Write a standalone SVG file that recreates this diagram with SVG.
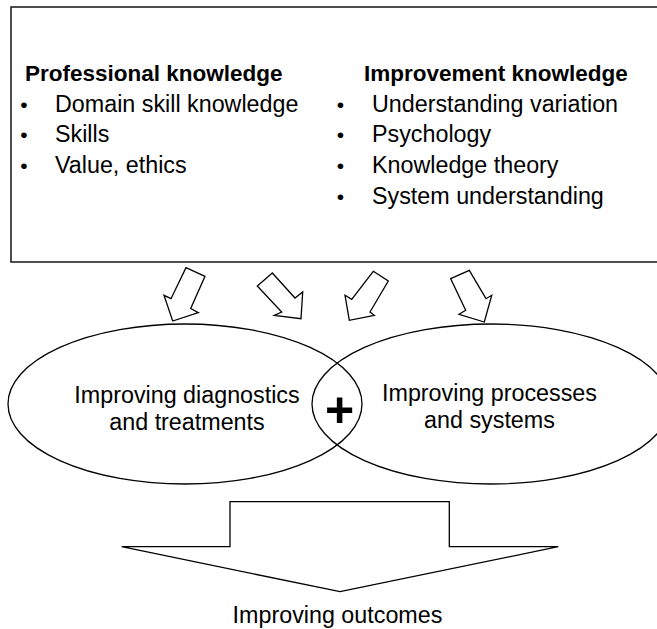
<svg xmlns="http://www.w3.org/2000/svg" width="657" height="629" viewBox="0 0 657 629">
<style>
  text { font-family: "Liberation Sans", Arial, sans-serif; fill: #000; }
  .h { font-weight: bold; font-size: 22.5px; }
  .t { font-size: 23.3px; }
  .c { font-size: 23.3px; text-anchor: middle; }
  .b { font-size: 21px; text-anchor: middle; }
  .sh { fill: #fff; stroke: #000; stroke-width: 1.3; stroke-linejoin: miter; }
  .el { fill: none; stroke: #000; stroke-width: 1.3; }
</style>
<rect width="657" height="629" fill="#fff"/>

<g id="knowledge-box">
  <rect x="11" y="7" width="660" height="255" fill="#fff" stroke="#222" stroke-width="1.6"/>
  <text class="h" x="25" y="81">Professional knowledge</text>
  <text class="b" x="24" y="111.5">•</text>
  <text class="t" x="55" y="111.5">Domain skill knowledge</text>
  <text class="b" x="24" y="142">•</text>
  <text class="t" x="55" y="142">Skills</text>
  <text class="b" x="24" y="172.5">•</text>
  <text class="t" x="55" y="172.5">Value, ethics</text>

  <text class="h" x="364" y="81">Improvement knowledge</text>
  <text class="b" x="340.5" y="111.5">•</text>
  <text class="t" x="372" y="111.5">Understanding variation</text>
  <text class="b" x="340.5" y="142">•</text>
  <text class="t" x="372" y="142">Psychology</text>
  <text class="b" x="340.5" y="172.5">•</text>
  <text class="t" x="372" y="172.5">Knowledge theory</text>
  <text class="b" x="340.5" y="203.5">•</text>
  <text class="t" x="372" y="203.5">System understanding</text>
</g>

<g id="connectors">
  <polygon class="sh" points="186,267.7 205,276.3 190.7,308.5 198.3,312.7 172.7,321 164,295.3 171,298.7"/>
  <polygon class="sh" points="272.3,273 257.3,286 281.7,312 274.3,315.3 301,318.7 302.7,292 295,298"/>
  <polygon class="sh" points="373.3,271.3 388.3,281 370,312 374.3,315.3 349.3,320.3 345,295.3 351.7,299.3"/>
  <polygon class="sh" points="450.7,278.7 469.3,270.3 486,298.7 491.7,295.3 484.3,322 459,314.3 465.7,310.3"/>
</g>

<g id="diagnostics">
  <ellipse class="el" cx="185" cy="404" rx="177" ry="80"/>
  <text class="c" x="187" y="403">Improving diagnostics</text>
  <text class="c" x="187" y="429.5">and treatments</text>
</g>

<g id="processes">
  <ellipse class="el" cx="491" cy="404" rx="179" ry="80"/>
  <text class="c" x="489.5" y="401">Improving processes</text>
  <text class="c" x="489.5" y="427.5">and systems</text>
</g>

<g id="plus">
  <text x="339.5" y="426.5" style="font-size:50px;font-weight:bold;text-anchor:middle;">+</text>
</g>

<g id="outcomes">
  <polygon class="sh" points="230,501.7 449.3,501.7 449.3,546.7 558.3,546.7 340,591.7 121.7,546.7 230,546.7"/>
  <text class="c" x="337.5" y="623">Improving outcomes</text>
</g>
</svg>
